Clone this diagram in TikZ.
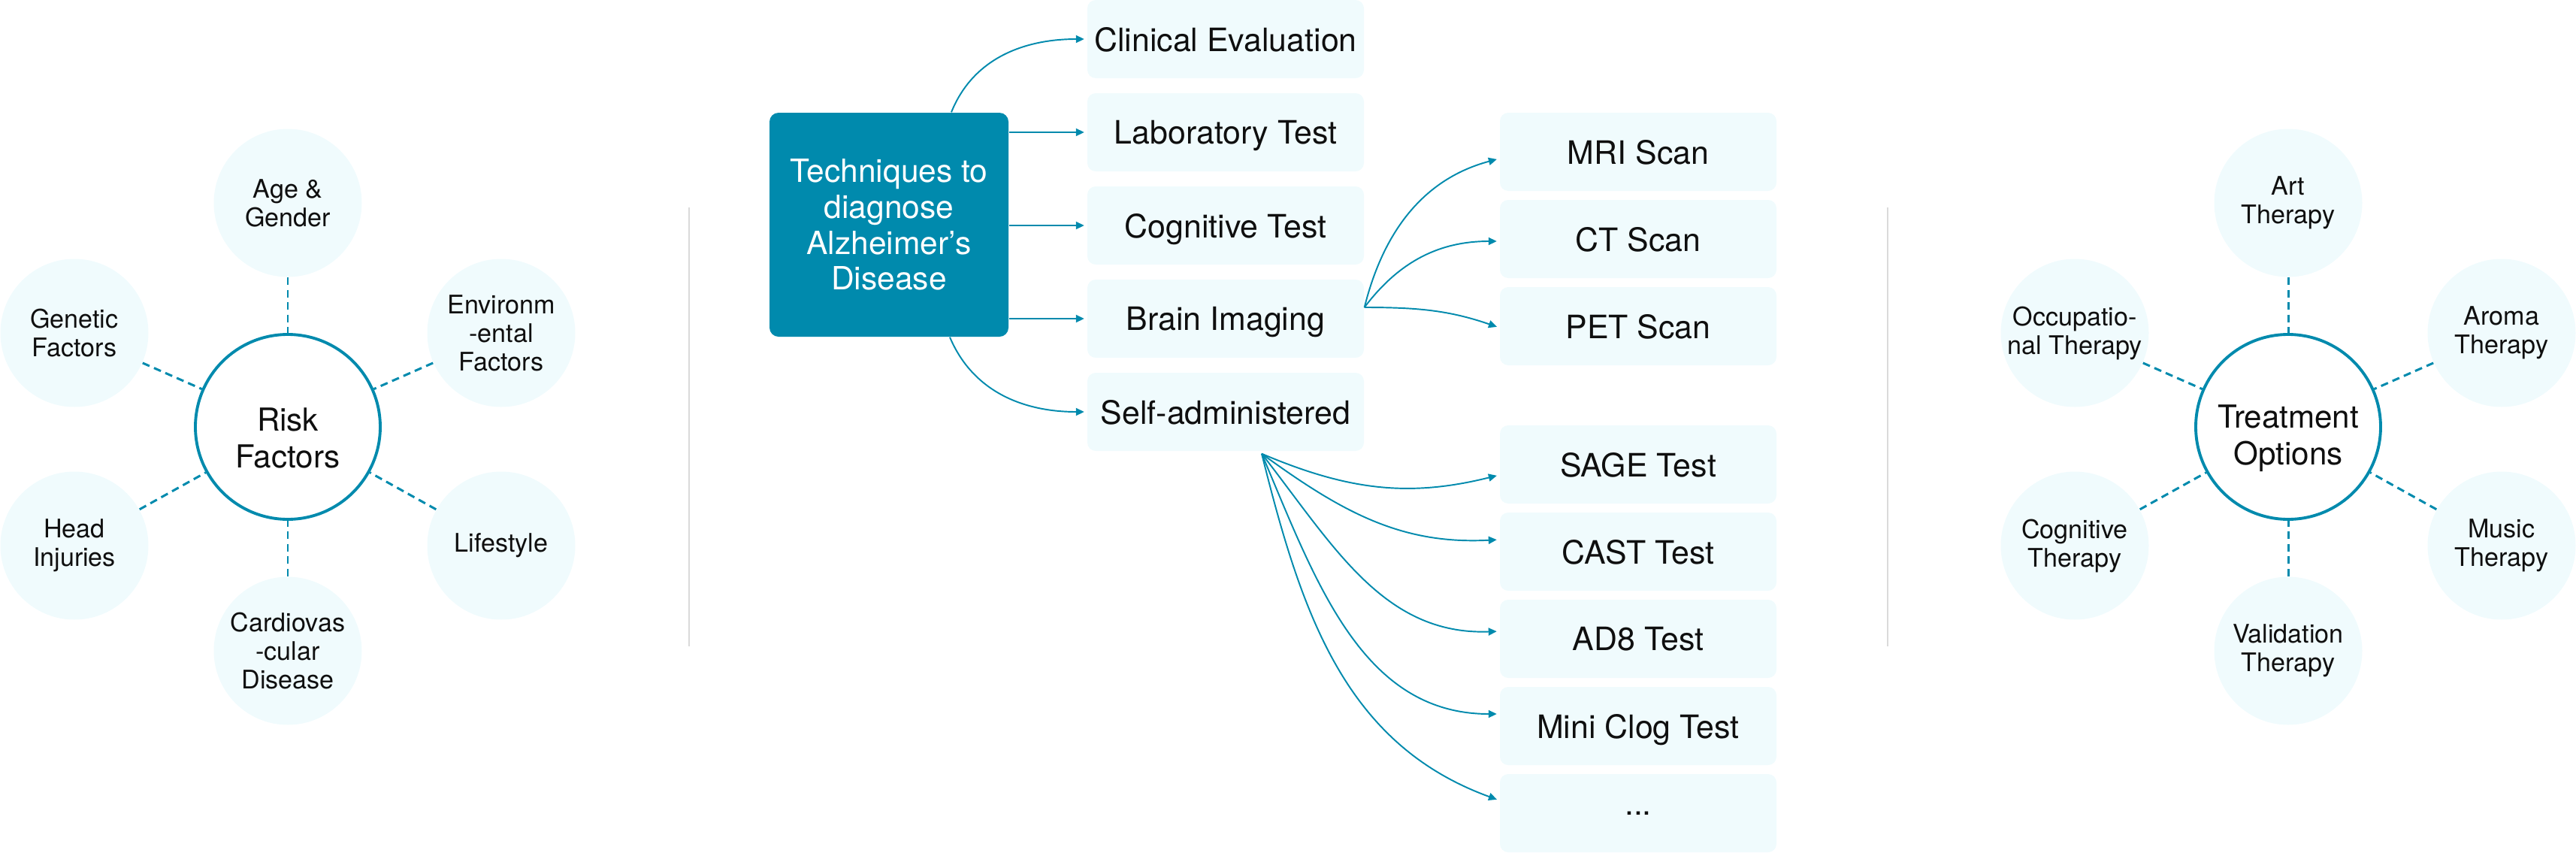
\documentclass[tikz,border=0pt]{standalone}
\usepackage{fontspec}
\setmainfont{TeX Gyre Heros}
\usetikzlibrary{arrows.meta}
\definecolor{dteal}{RGB}{0,138,173}
\definecolor{lfill}{RGB}{240,251,253}
\definecolor{divgray}{RGB}{218,218,218}
\definecolor{ink}{RGB}{15,15,15}
\begin{document}
\begin{tikzpicture}[
    hub/.style={circle, draw=dteal, line width=1.1pt, fill=white, minimum size=2.46cm, inner sep=0pt},
    hubtext/.style={align=center, inner sep=0pt, text=ink, font=\fontsize{12}{13.9}\selectfont},
    leaf/.style={circle, fill=lfill, minimum size=1.97cm, inner sep=0pt, align=center, text=ink, font=\fontsize{9.7}{10.8}\selectfont},
    tbox/.style={rectangle, rounded corners=0.11cm, fill=lfill, minimum width=3.68cm, minimum height=1.04cm, inner sep=0pt, text depth=0pt, text=ink, font=\fontsize{12.2}{14}\selectfont},
    mainbox/.style={rectangle, rounded corners=0.12cm, fill=dteal, minimum width=3.18cm, minimum height=2.98cm, inner sep=0pt, align=center, text=white, font=\fontsize{12.1}{13.6}\selectfont},
    link/.style={draw=dteal, line width=0.85pt, dash pattern=on 0.1cm off 0.065cm},
    flow/.style={draw=dteal, line width=0.55pt, shorten >=1pt, -{Triangle[length=0.11cm,width=0.1cm]}},
    divider/.style={draw=divgray, line width=0.6pt}
]
    \useasboundingbox (0,0) rectangle (34.28,-11.34);

    \node[hub] (risk) at (3.83,-5.68) {};
    \node[hubtext] (risktxt) at ([yshift=-0.15cm]risk.center) {Risk\\Factors};
    \node[leaf] (age) at (3.83,-2.70) {Age \&\\Gender};
    \node[leaf] (genetic) at (0.99,-4.43) {Genetic\\Factors};
    \node[leaf] (environ) at (6.67,-4.43) {Environm\\-ental\\Factors};
    \node[leaf] (head) at (0.99,-7.26) {Head\\Injuries};
    \node[leaf] (life) at (6.67,-7.26) {Lifestyle};
    \node[leaf] (cardio) at (3.83,-8.66) {Cardiovas\\-cular\\Disease};
    \foreach \n in {age,genetic,environ,head,life,cardio}
        \draw[link] (\n) -- (risk);

    \draw[divider] (9.17,-2.76) -- (9.17,-8.60);
    \draw[divider] (25.12,-2.76) -- (25.12,-8.60);

    \node[mainbox] (main) at (11.83,-2.99) {Techniques to\\diagnose\\Alzheimer’s\\Disease};
    \node[tbox] (clin) at (16.31,-0.52) {Clinical Evaluation};
    \node[tbox] (lab) at (16.31,-1.76) {Laboratory Test};
    \node[tbox] (cogt) at (16.31,-3.00) {Cognitive Test};
    \node[tbox] (brain) at (16.31,-4.24) {Brain Imaging};
    \node[tbox] (self) at (16.31,-5.48) {Self-administered};

    \node[tbox] (mri) at (21.80,-2.02) {MRI Scan};
    \node[tbox] (ct) at (21.80,-3.18) {CT Scan};
    \node[tbox] (pet) at (21.80,-4.34) {PET Scan};
    \node[tbox] (sage) at (21.80,-6.18) {SAGE Test};
    \node[tbox] (cast) at (21.80,-7.34) {CAST Test};
    \node[tbox] (ad8) at (21.80,-8.50) {AD8 Test};
    \node[tbox] (mini) at (21.80,-9.66) {Mini Clog Test};
    \node[tbox] (more) at (21.80,-10.82) {...};

    \draw[flow] ([xshift=0.83cm]main.north) to[out=68,in=180] (clin.west);
    \draw[flow] (main.east |- lab.west) -- (lab.west);
    \draw[flow] (main.east |- cogt.west) -- (cogt.west);
    \draw[flow] (main.east |- brain.west) -- (brain.west);
    \draw[flow] ([xshift=0.81cm]main.south) to[out=-67,in=180] (self.west);

    \coordinate (bsrc) at ([yshift=0.15cm]brain.east);
    \draw[flow] (bsrc) to[out=76,in=195] ([yshift=-0.09cm]mri.west);
    \draw[flow] (bsrc) to[out=53,in=180] ([yshift=-0.03cm]ct.west);
    \draw[flow] (bsrc) to[out=0,in=161] ([yshift=-0.02cm]pet.west);

    \coordinate (ssrc) at ([xshift=0.48cm,yshift=-0.03cm]self.south);
    \draw[flow] (ssrc) to[out=-23,in=194] ([yshift=-0.14cm]sage.west);
    \draw[flow] (ssrc) to[out=-36,in=183] ([yshift=0.16cm]cast.west);
    \draw[flow] (ssrc) to[out=-52,in=182] ([yshift=0.10cm]ad8.west);
    \draw[flow] (ssrc) to[out=-67,in=180] ([yshift=0.16cm]mini.west);
    \draw[flow] (ssrc) to[out=-76,in=160] ([yshift=0.17cm]more.west);

    \node[hub] (treat) at (30.45,-5.68) {};
    \node[hubtext] (treattxt) at ([yshift=-0.15cm]treat.center) {Treatment\\Options};
    \node[leaf] (art) at (30.45,-2.70) {Art\\Therapy};
    \node[leaf] (occup) at (27.61,-4.43) {Occupatio-\\nal Therapy};
    \node[leaf] (aroma) at (33.29,-4.43) {Aroma\\Therapy};
    \node[leaf] (cogth) at (27.61,-7.26) {Cognitive\\Therapy};
    \node[leaf] (music) at (33.29,-7.26) {Music\\Therapy};
    \node[leaf] (valid) at (30.45,-8.66) {Validation\\Therapy};
    \foreach \n in {art,occup,aroma,cogth,music,valid}
        \draw[link] (\n) -- (treat);
\end{tikzpicture}
\end{document}
